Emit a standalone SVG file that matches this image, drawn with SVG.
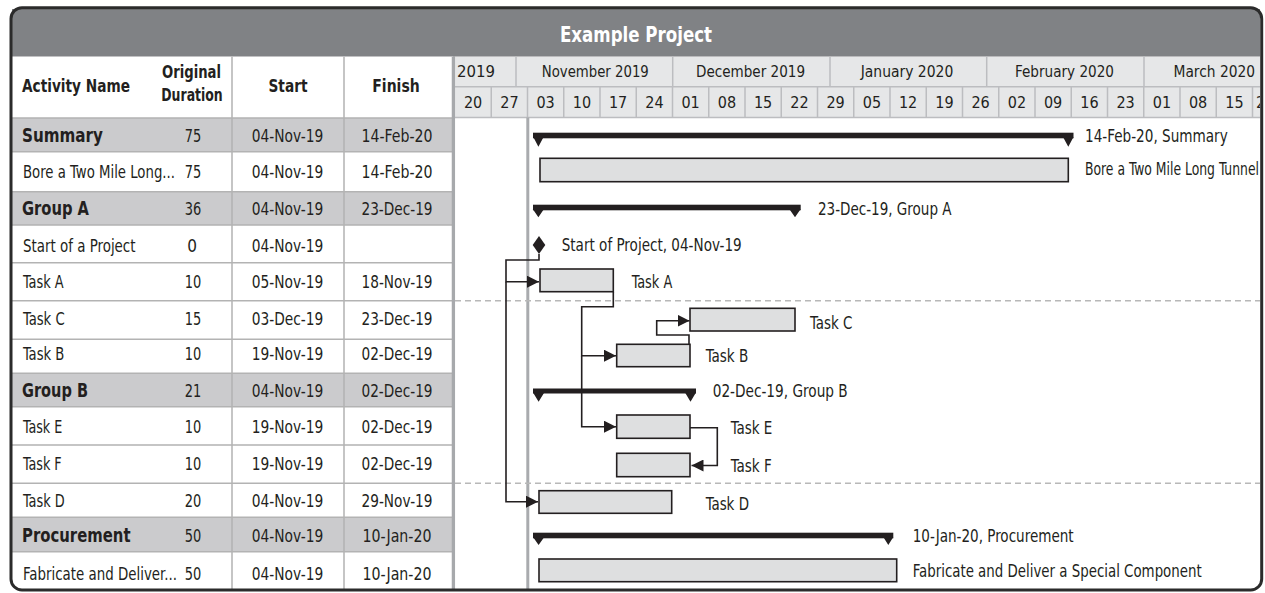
<svg xmlns="http://www.w3.org/2000/svg" width="1265" height="593" viewBox="0 0 1265 593">
<style>
.t{font-family:"Liberation Sans Narrow","Arial Narrow","DejaVu Sans Condensed","Liberation Sans",sans-serif;font-stretch:condensed;font-size:17px;fill:#231f20}
.b{font-weight:bold}
.g{font-size:19px}
.c{text-anchor:middle}
.hd{font-size:16px}
.grp{fill:#cbcbcd}
.grid{stroke:#b3b3b3;stroke-width:1.5;fill:none}
.hgrid{stroke:#bcbdc0;stroke-width:1.5;fill:none}
.bar{fill:#dedfe0;stroke:#231f20;stroke-width:1.6}
.sum{fill:#231f20}
.conn{fill:none;stroke:#231f20;stroke-width:1.6}
.dash{stroke:#b8b8b8;stroke-width:1.5;stroke-dasharray:6 4}
</style>
<defs>
<marker id="arr" markerUnits="userSpaceOnUse" markerWidth="12" markerHeight="12" refX="12" refY="6" orient="auto">
<path d="M0,0 L12,6 L0,12 Z" fill="#231f20"/>
</marker>
<clipPath id="clip"><rect x="12" y="9" width="1248" height="580"/></clipPath>
</defs>
<rect x="0" y="0" width="1265" height="593" fill="#ffffff"/>
<g clip-path="url(#clip)">
<g id="title">
<rect x="11" y="7.7" width="1251" height="49" fill="#808285"/>
<text class="t b c" x="636" y="42" textLength="152" lengthAdjust="spacingAndGlyphs" style="font-size:22px;fill:#ffffff">Example Project</text>
</g>
<g id="table-header">
<rect x="12" y="56.7" width="441" height="61.3" fill="#ffffff"/>
<text class="t b" x="22" y="92" textLength="108" lengthAdjust="spacingAndGlyphs">Activity Name</text>
<text class="t b c" x="191.5" y="78" textLength="59" lengthAdjust="spacingAndGlyphs">Original</text>
<text class="t b c" x="192" y="101" textLength="61.5" lengthAdjust="spacingAndGlyphs">Duration</text>
<text class="t b c" x="288" y="92" textLength="39" lengthAdjust="spacingAndGlyphs">Start</text>
<text class="t b c" x="396" y="92" textLength="47.5" lengthAdjust="spacingAndGlyphs">Finish</text>
</g>
<g id="row-bg">
<rect class="grp" x="12" y="118" width="440" height="33.7"/>
<rect class="grp" x="12" y="191.7" width="440" height="33.3"/>
<rect class="grp" x="12" y="373.3" width="440" height="33.4"/>
<rect class="grp" x="12" y="517.3" width="440" height="34.4"/>
</g>
<g id="table-grid">
<path class="grid" d="M232,56.7V590 M344,56.7V590 M12,118H452 M12,151.7H452 M12,191.7H452 M12,225H452 M12,262.7H452 M12,300.7H452 M12,339.3H452 M12,373.3H452 M12,406.7H452 M12,445H452 M12,483.3H452 M12,517.3H452 M12,551.7H452"/>
</g>
<g id="row-summary"><text class="t b g" x="22" y="141.7" textLength="81" lengthAdjust="spacingAndGlyphs">Summary</text><text class="t c" x="193" y="141.5" textLength="16.5" lengthAdjust="spacingAndGlyphs">75</text><text class="t c" x="287.5" y="141.5" textLength="71.5" lengthAdjust="spacingAndGlyphs">04-Nov-19</text><text class="t c" x="397" y="141.5" textLength="71" lengthAdjust="spacingAndGlyphs">14-Feb-20</text></g>
<g id="row-bore"><text class="t" x="23" y="178.3" textLength="152" lengthAdjust="spacingAndGlyphs">Bore a Two Mile Long...</text><text class="t c" x="193" y="178.3" textLength="16.5" lengthAdjust="spacingAndGlyphs">75</text><text class="t c" x="287.5" y="178.3" textLength="71.5" lengthAdjust="spacingAndGlyphs">04-Nov-19</text><text class="t c" x="397" y="178.3" textLength="71" lengthAdjust="spacingAndGlyphs">14-Feb-20</text></g>
<g id="row-groupa"><text class="t b g" x="22" y="215" textLength="67" lengthAdjust="spacingAndGlyphs">Group A</text><text class="t c" x="193" y="215" textLength="16.5" lengthAdjust="spacingAndGlyphs">36</text><text class="t c" x="287.5" y="215" textLength="71.5" lengthAdjust="spacingAndGlyphs">04-Nov-19</text><text class="t c" x="397" y="215" textLength="71" lengthAdjust="spacingAndGlyphs">23-Dec-19</text></g>
<g id="row-start"><text class="t" x="23" y="251.7" textLength="112.5" lengthAdjust="spacingAndGlyphs">Start of a Project</text><text class="t c" x="192" y="251.7">0</text><text class="t c" x="287.5" y="251.7" textLength="71.5" lengthAdjust="spacingAndGlyphs">04-Nov-19</text></g>
<g id="row-taska"><text class="t" x="23" y="288.3" textLength="40.7" lengthAdjust="spacingAndGlyphs">Task A</text><text class="t c" x="193" y="288.3" textLength="16.5" lengthAdjust="spacingAndGlyphs">10</text><text class="t c" x="287.5" y="288.3" textLength="71.5" lengthAdjust="spacingAndGlyphs">05-Nov-19</text><text class="t c" x="397" y="288.3" textLength="71" lengthAdjust="spacingAndGlyphs">18-Nov-19</text></g>
<g id="row-taskc"><text class="t" x="23" y="325" textLength="41.7" lengthAdjust="spacingAndGlyphs">Task C</text><text class="t c" x="193" y="325" textLength="16.5" lengthAdjust="spacingAndGlyphs">15</text><text class="t c" x="287.5" y="325" textLength="71.5" lengthAdjust="spacingAndGlyphs">03-Dec-19</text><text class="t c" x="397" y="325" textLength="71" lengthAdjust="spacingAndGlyphs">23-Dec-19</text></g>
<g id="row-taskb"><text class="t" x="23" y="360" textLength="41.4" lengthAdjust="spacingAndGlyphs">Task B</text><text class="t c" x="193" y="360" textLength="16.5" lengthAdjust="spacingAndGlyphs">10</text><text class="t c" x="287.5" y="360" textLength="71.5" lengthAdjust="spacingAndGlyphs">19-Nov-19</text><text class="t c" x="397" y="360" textLength="71" lengthAdjust="spacingAndGlyphs">02-Dec-19</text></g>
<g id="row-groupb"><text class="t b g" x="22" y="396.7" textLength="66" lengthAdjust="spacingAndGlyphs">Group B</text><text class="t c" x="193" y="396.7" textLength="16.5" lengthAdjust="spacingAndGlyphs">21</text><text class="t c" x="287.5" y="396.7" textLength="71.5" lengthAdjust="spacingAndGlyphs">04-Nov-19</text><text class="t c" x="397" y="396.7" textLength="71" lengthAdjust="spacingAndGlyphs">02-Dec-19</text></g>
<g id="row-taske"><text class="t" x="23" y="433.3" textLength="39.3" lengthAdjust="spacingAndGlyphs">Task E</text><text class="t c" x="193" y="433.3" textLength="16.5" lengthAdjust="spacingAndGlyphs">10</text><text class="t c" x="287.5" y="433.3" textLength="71.5" lengthAdjust="spacingAndGlyphs">19-Nov-19</text><text class="t c" x="397" y="433.3" textLength="71" lengthAdjust="spacingAndGlyphs">02-Dec-19</text></g>
<g id="row-taskf"><text class="t" x="23" y="470" textLength="38.7" lengthAdjust="spacingAndGlyphs">Task F</text><text class="t c" x="193" y="470" textLength="16.5" lengthAdjust="spacingAndGlyphs">10</text><text class="t c" x="287.5" y="470" textLength="71.5" lengthAdjust="spacingAndGlyphs">19-Nov-19</text><text class="t c" x="397" y="470" textLength="71" lengthAdjust="spacingAndGlyphs">02-Dec-19</text></g>
<g id="row-taskd"><text class="t" x="23" y="506.7" textLength="41.7" lengthAdjust="spacingAndGlyphs">Task D</text><text class="t c" x="193" y="506.7" textLength="16.5" lengthAdjust="spacingAndGlyphs">20</text><text class="t c" x="287.5" y="506.7" textLength="71.5" lengthAdjust="spacingAndGlyphs">04-Nov-19</text><text class="t c" x="397" y="506.7" textLength="71" lengthAdjust="spacingAndGlyphs">29-Nov-19</text></g>
<g id="row-procurement"><text class="t b g" x="22" y="541.7" textLength="108.5" lengthAdjust="spacingAndGlyphs">Procurement</text><text class="t c" x="193" y="541.7" textLength="16.5" lengthAdjust="spacingAndGlyphs">50</text><text class="t c" x="287.5" y="541.7" textLength="71.5" lengthAdjust="spacingAndGlyphs">04-Nov-19</text><text class="t c" x="397" y="541.7" textLength="69" lengthAdjust="spacingAndGlyphs">10-Jan-20</text></g>
<g id="row-fabricate"><text class="t" x="23" y="580" textLength="154" lengthAdjust="spacingAndGlyphs">Fabricate and Deliver...</text><text class="t c" x="193" y="580" textLength="16.5" lengthAdjust="spacingAndGlyphs">50</text><text class="t c" x="287.5" y="580" textLength="71.5" lengthAdjust="spacingAndGlyphs">04-Nov-19</text><text class="t c" x="397" y="580" textLength="69" lengthAdjust="spacingAndGlyphs">10-Jan-20</text></g>

<g id="timescale">
<rect x="455" y="56.7" width="806" height="61" fill="#e6e7e8"/>
<path class="hgrid" d="M455,86.7H1262 M455,117.5H1262 M516,56.7V86.7 M672.7,56.7V86.7 M830,56.7V86.7 M986.7,56.7V86.7 M1144,56.7V86.7
M491.25,86.7V117.5 M527.5,86.7V117.5 M563.75,86.7V117.5 M600,86.7V117.5 M636.25,86.7V117.5 M672.5,86.7V117.5 M708.75,86.7V117.5 M745,86.7V117.5 M781.25,86.7V117.5 M817.5,86.7V117.5 M853.75,86.7V117.5 M890,86.7V117.5 M926.25,86.7V117.5 M962.5,86.7V117.5 M998.75,86.7V117.5 M1035,86.7V117.5 M1071.25,86.7V117.5 M1107.5,86.7V117.5 M1143.75,86.7V117.5 M1180,86.7V117.5 M1216.25,86.7V117.5 M1252.5,86.7V117.5"/>
<text class="t hd" x="457" y="77.3" textLength="38" lengthAdjust="spacingAndGlyphs">2019</text>
<text class="t hd c" x="595.3" y="77.3" textLength="107" lengthAdjust="spacingAndGlyphs">November 2019</text>
<text class="t hd c" x="750.5" y="77.3" textLength="109" lengthAdjust="spacingAndGlyphs">December 2019</text>
<text class="t hd c" x="907" y="77.3" textLength="92.6" lengthAdjust="spacingAndGlyphs">January 2020</text>
<text class="t hd c" x="1064.5" y="77.3" textLength="99" lengthAdjust="spacingAndGlyphs">February 2020</text>
<text class="t hd" x="1173.5" y="77.3" textLength="81.5" lengthAdjust="spacingAndGlyphs">March 2020</text>
<text class="t hd c" x="473.1" y="108.3">20</text>
<text class="t hd c" x="509.4" y="108.3">27</text>
<text class="t hd c" x="545.6" y="108.3">03</text>
<text class="t hd c" x="581.9" y="108.3">10</text>
<text class="t hd c" x="618.1" y="108.3">17</text>
<text class="t hd c" x="654.4" y="108.3">24</text>
<text class="t hd c" x="690.6" y="108.3">01</text>
<text class="t hd c" x="726.9" y="108.3">08</text>
<text class="t hd c" x="763.1" y="108.3">15</text>
<text class="t hd c" x="799.4" y="108.3">22</text>
<text class="t hd c" x="835.6" y="108.3">29</text>
<text class="t hd c" x="871.9" y="108.3">05</text>
<text class="t hd c" x="908.1" y="108.3">12</text>
<text class="t hd c" x="944.4" y="108.3">19</text>
<text class="t hd c" x="980.6" y="108.3">26</text>
<text class="t hd c" x="1016.9" y="108.3">02</text>
<text class="t hd c" x="1053.1" y="108.3">09</text>
<text class="t hd c" x="1089.4" y="108.3">16</text>
<text class="t hd c" x="1125.6" y="108.3">23</text>
<text class="t hd c" x="1161.9" y="108.3">01</text>
<text class="t hd c" x="1198.1" y="108.3">08</text>
<text class="t hd c" x="1234.4" y="108.3">15</text>
<text class="t hd" x="1256" y="108.3">22</text>
</g>

<g id="dividers">
<line x1="453.4" y1="56.7" x2="453.4" y2="590" stroke="#a7a9ac" stroke-width="3.3"/>
<line x1="527.8" y1="117.5" x2="527.8" y2="590" stroke="#a9abae" stroke-width="3"/>
<line class="dash" x1="455" y1="300.7" x2="1262" y2="300.7"/>
<line class="dash" x1="455" y1="483.3" x2="1262" y2="483.3"/>
</g>

<g id="g-summary">
<rect class="sum" x="533" y="132.7" width="540.5" height="5.6"/>
<path class="sum" d="M533.3,137 L543.6,137 L538.4,146.7 Z M1063,137 L1073.5,137 L1068.3,146.7 Z"/>
<text class="t" x="1085" y="141.7" textLength="142.7" lengthAdjust="spacingAndGlyphs">14-Feb-20, Summary</text>
</g>
<g id="g-bore">
<rect class="bar" x="540" y="158.3" width="528.3" height="23.4"/>
<text class="t" x="1085" y="175" textLength="174" lengthAdjust="spacingAndGlyphs">Bore a Two Mile Long Tunnel</text>
</g>
<g id="g-groupa">
<rect class="sum" x="533" y="204.7" width="267.7" height="5.6"/>
<path class="sum" d="M532.7,209 L544,209 L538.4,217.3 Z M789.3,209 L800.7,209 L795,217.3 Z"/>
<text class="t" x="818" y="215" textLength="133.5" lengthAdjust="spacingAndGlyphs">23-Dec-19, Group A</text>
</g>
<g id="g-start">
<path class="sum" d="M539,236 L545.3,245 L539,254 L532.7,245 Z"/>
<text class="t" x="561.7" y="250.7" textLength="180" lengthAdjust="spacingAndGlyphs">Start of Project, 04-Nov-19</text>
</g>
<g id="g-taska">
<rect class="bar" x="540" y="269" width="73.3" height="22.7"/>
<text class="t" x="631.7" y="288.3" textLength="40.6" lengthAdjust="spacingAndGlyphs">Task A</text>
</g>
<g id="g-taskc">
<rect class="bar" x="690" y="308.3" width="105" height="22.7"/>
<text class="t" x="810" y="329" textLength="42.3" lengthAdjust="spacingAndGlyphs">Task C</text>
</g>
<g id="g-taskb">
<rect class="bar" x="616.7" y="344.3" width="73.3" height="22.4"/>
<text class="t" x="705.7" y="361.7" textLength="42.6" lengthAdjust="spacingAndGlyphs">Task B</text>
</g>
<g id="g-groupb">
<rect class="sum" x="533" y="388.5" width="163" height="5"/>
<path class="sum" d="M533,392.5 L544.3,392.5 L538.6,401.7 Z M685,392.5 L696,392.5 L690.5,401.7 Z"/>
<text class="t" x="712.7" y="396.7" textLength="135" lengthAdjust="spacingAndGlyphs">02-Dec-19, Group B</text>
</g>
<g id="g-taske">
<rect class="bar" x="616.7" y="415" width="73.3" height="23.3"/>
<text class="t" x="730.7" y="434" textLength="41.6" lengthAdjust="spacingAndGlyphs">Task E</text>
</g>
<g id="g-taskf">
<rect class="bar" x="616.7" y="453.3" width="73.3" height="23.4"/>
<text class="t" x="730.7" y="472" textLength="41" lengthAdjust="spacingAndGlyphs">Task F</text>
</g>
<g id="g-taskd">
<rect class="bar" x="539" y="490.7" width="132.7" height="22.6"/>
<text class="t" x="705.7" y="510" textLength="43.3" lengthAdjust="spacingAndGlyphs">Task D</text>
</g>
<g id="g-procurement">
<rect class="sum" x="533" y="532.7" width="360.3" height="5.6"/>
<path class="sum" d="M533,537 L544.3,537 L538.6,545 Z M883.3,537 L893.3,537 L888.3,545 Z"/>
<text class="t" x="912.7" y="541.7" textLength="161" lengthAdjust="spacingAndGlyphs">10-Jan-20, Procurement</text>
</g>
<g id="g-fabricate">
<rect class="bar" x="539" y="559" width="357.7" height="22.7"/>
<text class="t" x="912.7" y="576.7" textLength="289" lengthAdjust="spacingAndGlyphs">Fabricate and Deliver a Special Component</text>
</g>

<g id="connectors">
<path class="conn" d="M539,254 V260 H506 V281.7 H539" marker-end="url(#arr)"/>
<path class="conn" d="M506,281.7 V501.7 H538" marker-end="url(#arr)"/>
<path class="conn" d="M613.3,291.7 V306.7 H581.7 V355.7 H616" marker-end="url(#arr)"/>
<path class="conn" d="M581.7,355.7 V426.7 H616" marker-end="url(#arr)"/>
<path class="conn" d="M689,344.3 V335 H656.7 V320.7 H689.5" marker-end="url(#arr)"/>
<path class="conn" d="M690,427.7 H717.3 V465.5 H691.5" marker-end="url(#arr)"/>
</g>
</g>
<rect id="frame" x="11" y="7.7" width="1250.7" height="582.3" rx="11" ry="11" fill="none" stroke="#2b2b2b" stroke-width="3"/>
</svg>
